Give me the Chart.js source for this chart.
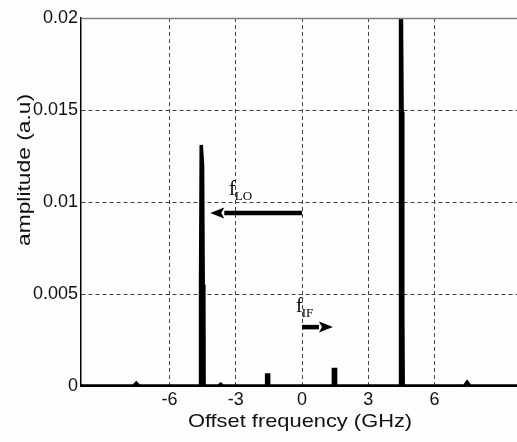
<!DOCTYPE html>
<html>
<head>
<meta charset="utf-8">
<script src="https://cdn.jsdelivr.net/npm/chart.js@4"></script>
<style>
html,body{margin:0;padding:0;background:#fdfdfd;overflow:hidden;}
#wrap{position:relative;width:540px;height:442px;}
</style>
</head>
<body>
<div id="wrap"><canvas id="c"></canvas></div>
<script>
// Spectrum samples (GHz, a.u.)
const freqGHz   = [-10, -7.62, -7.5, -7.38, -4.6, -4.59, -4.56, -4.53, -4.5, -4.47, -4.44, -4.43, -3.78, -3.68, -3.58, -1.6, -1.6, -1.51, -1.51, 1.42, 1.42, 1.52, 1.52, 4.44, 4.45, 4.47, 4.5, 4.53, 4.56, 4.58, 7.35, 7.47, 7.59, 10];
const amplitude = [0, 0, 0.00015, 0, 0, 0.0055, 0.0131, 0.0131, 0.0120, 0.0055, 0.0044, 0, 0, 0.0001, 0, 0, 0.0006, 0.0006, 0, 0, 0.0009, 0.0009, 0, 0, 0.0039, 0.0199, 0.0199, 0.0149, 0.0040, 0, 0, 0.0002, 0, 0];
const xTicks = [-6, -3, 0, 3, 6];
const xTickLabels = ['-6', '-3', '0', '3', '6'];
const yTicks = [0, 0.005, 0.01, 0.015, 0.02];
const yTickLabels = ['0', '0.005', '0.01', '0.015', '0.02'];
// Annotation arrows: label subscript, start/end frequency, amplitude level, label anchor
const arrowNames = ['LO', 'IF'];
const arrowFrom  = [0, 0];
const arrowTo    = [-4.15, 1.4];
const arrowLevel = [0.0094, 0.0032];
const labelFreq  = [-3.3, -0.27];
const labelLevel = [0.0104, 0.0040];

const points = freqGHz.map((f, i) => ({x: f, y: amplitude[i]}));

const overlay = {
  id: 'overlay',
  afterDraw(chart) {
    const {ctx, chartArea: a, scales: {x, y}} = chart;
    ctx.save();
    // top box line
    ctx.strokeStyle = '#808080';
    ctx.lineWidth = 1.5;
    ctx.beginPath();
    ctx.moveTo(a.left, a.top + 0.5);
    ctx.lineTo(a.right, a.top + 0.5);
    ctx.stroke();
    // arrows
    ctx.fillStyle = '#000';
    ctx.strokeStyle = '#000';
    arrowNames.forEach((name, i) => {
      const x0 = x.getPixelForValue(arrowFrom[i]);
      const x1 = x.getPixelForValue(arrowTo[i]);
      const yy = y.getPixelForValue(arrowLevel[i]);
      const dir = Math.sign(x1 - x0);
      const head = 14;
      ctx.lineWidth = 4.5;
      ctx.beginPath();
      ctx.moveTo(x0, yy);
      ctx.lineTo(x1 - dir * head, yy);
      ctx.stroke();
      ctx.beginPath();
      ctx.moveTo(x1, yy);
      ctx.lineTo(x1 - dir * head, yy - 5.5);
      ctx.lineTo(x1 - dir * (head - 3), yy);
      ctx.lineTo(x1 - dir * head, yy + 5.5);
      ctx.closePath();
      ctx.fill();
      // label f_sub
      const lx = x.getPixelForValue(labelFreq[i]);
      const ly = y.getPixelForValue(labelLevel[i]);
      ctx.textAlign = 'left';
      ctx.textBaseline = 'alphabetic';
      ctx.font = '20px "Liberation Serif", serif';
      ctx.fillText('f', lx, ly);
      const fw = ctx.measureText('f').width;
      ctx.font = '13px "Liberation Serif", serif';
      ctx.fillText(name, lx + fw - 1, ly + 5);
    });
    // axis titles (stretched along reading direction like the original)
    ctx.fillStyle = '#111';
    ctx.font = '19px "Liberation Sans", Arial, sans-serif';
    ctx.textAlign = 'center';
    ctx.textBaseline = 'alphabetic';
    ctx.save();
    ctx.translate(300, 427);
    ctx.scale(1.15, 1);
    ctx.fillText('Offset frequency (GHz)', 0, 0);
    ctx.restore();
    ctx.translate(30, 170);
    ctx.rotate(-Math.PI / 2);
    ctx.scale(1.2, 1);
    ctx.fillText('amplitude (a.u)', 0, 0);
    ctx.restore();
  }
};

new Chart(document.getElementById('c'), {
  type: 'line',
  data: {
    datasets: [{
      data: points,
      borderColor: '#000',
      borderWidth: 3.5,
      pointRadius: 0,
      tension: 0,
      fill: false,
      borderJoinStyle: 'miter'
    }]
  },
  options: {
    responsive: true,
    maintainAspectRatio: false,
    animation: false,
    devicePixelRatio: 1,
    layout: {padding: {top: 18, right: 17, left: 0, bottom: 0}},
    plugins: {legend: {display: false}, tooltip: {enabled: false}},
    scales: {
      x: {
        type: 'linear',
        min: -10, max: 10,
        afterBuildTicks: s => { s.ticks = xTicks.map(v => ({value: v})); },
        afterFit: s => { s.height = 56; },
        ticks: {
          color: '#111',
          font: {family: '"Liberation Sans", Arial, sans-serif', size: 18},
          padding: 3,
          maxRotation: 0,
          callback: (v, i) => xTickLabels[i]
        },
        grid: {color: '#444', drawTicks: false, lineWidth: 1},
        border: {display: true, color: '#000', width: 1, dash: [4, 3]}
      },
      y: {
        type: 'linear',
        min: 0, max: 0.02,
        afterBuildTicks: s => { s.ticks = yTicks.map(v => ({value: v})); },
        afterFit: s => { s.width = 81; },
        ticks: {
          color: '#111',
          font: {family: '"Liberation Sans", Arial, sans-serif', size: 18},
          padding: 3,
          callback: (v, i) => yTickLabels[i]
        },
        grid: {
          color: ctx => (ctx.tick && (ctx.tick.value === 0 || ctx.tick.value === 0.02)) ? 'rgba(0,0,0,0)' : '#444',
          drawTicks: false, lineWidth: 1
        },
        border: {display: true, color: '#000', width: 1.5, dash: [4, 3]}
      }
    }
  },
  plugins: [overlay]
});
</script>
</body>
</html>
